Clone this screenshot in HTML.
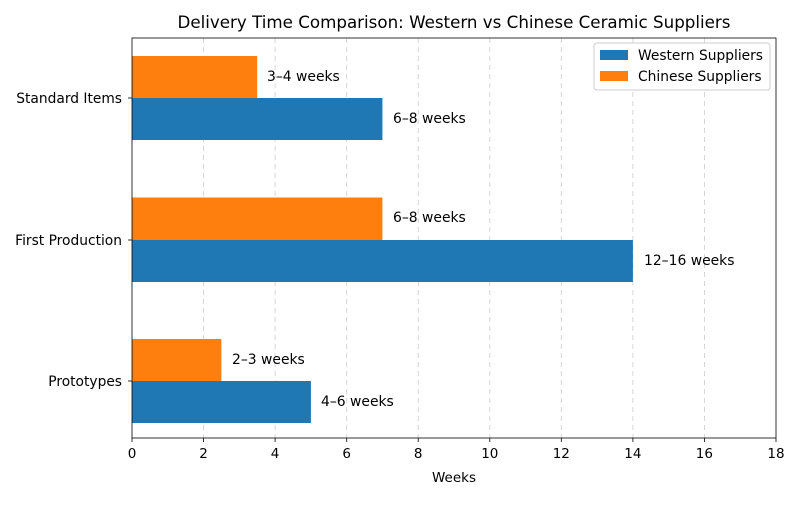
<!DOCTYPE html>
<html><head><style>body{margin:0;background:#fff}</style></head><body>
<svg width="800" height="500" xmlns="http://www.w3.org/2000/svg" font-family="DejaVu Sans, sans-serif">
<rect width="800" height="500" fill="#fff"/>
<g stroke="#cccccc" stroke-dasharray="5,4" stroke-width="0.8">
<line x1="203.6" y1="38" x2="203.6" y2="438"/><line x1="275.1" y1="38" x2="275.1" y2="438"/>
<line x1="346.7" y1="38" x2="346.7" y2="438"/><line x1="418.2" y1="38" x2="418.2" y2="438"/>
<line x1="489.8" y1="38" x2="489.8" y2="438"/><line x1="561.3" y1="38" x2="561.3" y2="438"/>
<line x1="632.9" y1="38" x2="632.9" y2="438"/><line x1="704.4" y1="38" x2="704.4" y2="438"/>
</g>
<g fill="#ff7f0e">
<rect x="132" y="56" width="125.2" height="42"/>
<rect x="132" y="197.5" width="250.4" height="42.5"/>
<rect x="132" y="339" width="89.4" height="42"/>
</g>
<g fill="#1f77b4">
<rect x="132" y="98" width="250.4" height="42"/>
<rect x="132" y="240" width="500.9" height="42"/>
<rect x="132" y="381" width="178.9" height="42"/>
</g>
<rect x="132" y="38" width="644" height="400" fill="none" stroke="#000" stroke-width="0.8"/>
<g font-size="13.9" fill="#000">
<text x="267" y="81">3–4 weeks</text>
<text x="393" y="123">6–8 weeks</text>
<text x="393" y="222">6–8 weeks</text>
<text x="644" y="265">12–16 weeks</text>
<text x="232" y="364">2–3 weeks</text>
<text x="321" y="406">4–6 weeks</text>
</g>
<g font-size="13.8" fill="#000" text-anchor="end">
<text x="122" y="103">Standard Items</text>
<text x="122" y="245">First Production</text>
<text x="122" y="386">Prototypes</text>
</g>
<g stroke="#000" stroke-width="0.8">
<line x1="128" y1="98" x2="132" y2="98"/><line x1="128" y1="240" x2="132" y2="240"/><line x1="128" y1="381" x2="132" y2="381"/>
<line x1="132" y1="438" x2="132" y2="442"/><line x1="203.6" y1="438" x2="203.6" y2="442"/><line x1="275.1" y1="438" x2="275.1" y2="442"/><line x1="346.7" y1="438" x2="346.7" y2="442"/><line x1="418.2" y1="438" x2="418.2" y2="442"/><line x1="489.8" y1="438" x2="489.8" y2="442"/><line x1="561.3" y1="438" x2="561.3" y2="442"/><line x1="632.9" y1="438" x2="632.9" y2="442"/><line x1="704.4" y1="438" x2="704.4" y2="442"/><line x1="776" y1="438" x2="776" y2="442"/>
</g>
<g font-size="13.5" fill="#000" text-anchor="middle">
<text x="132" y="458">0</text><text x="203.6" y="458">2</text><text x="275.1" y="458">4</text><text x="346.7" y="458">6</text><text x="418.2" y="458">8</text><text x="489.8" y="458">10</text><text x="561.3" y="458">12</text><text x="632.9" y="458">14</text><text x="704.4" y="458">16</text><text x="776" y="458">18</text>
<text x="454" y="482" font-size="13.5">Weeks</text>
<text x="454" y="28" font-size="16.7">Delivery Time Comparison: Western vs Chinese Ceramic Suppliers</text>
</g>
<rect x="594" y="43" width="176" height="47" fill="#fff" stroke="#ccc" rx="3"/>
<rect x="600" y="50" width="28" height="10" fill="#1f77b4"/>
<rect x="600" y="71" width="28" height="10" fill="#ff7f0e"/>
<text x="638" y="60" font-size="13.8">Western Suppliers</text>
<text x="638" y="81" font-size="13.8">Chinese Suppliers</text>
</svg>
</body></html>
